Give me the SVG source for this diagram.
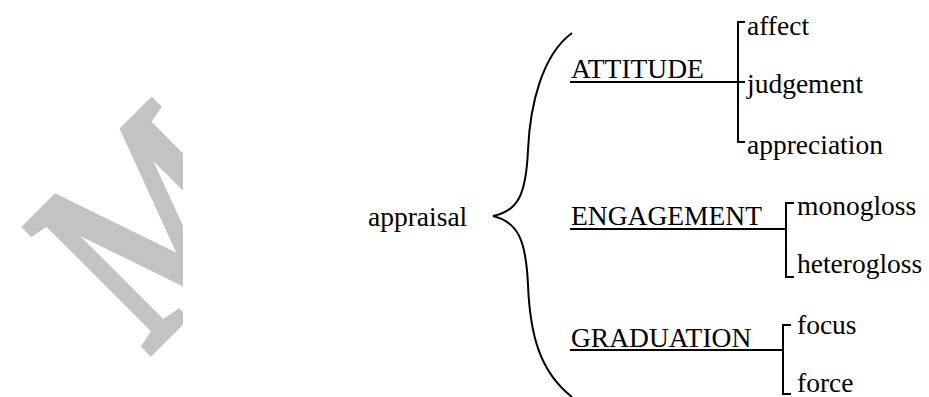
<svg xmlns="http://www.w3.org/2000/svg" width="929" height="397" viewBox="0 0 929 397">
<style>
text{font-family:"Liberation Serif","Times New Roman",serif;fill:#000}
.t{font-size:27.5px}
.ln{stroke:#000;stroke-width:2;fill:none}
</style>
<defs>
<clipPath id="wm"><rect x="0" y="0" width="183" height="397"/></clipPath>
</defs>
<rect width="929" height="397" fill="#fff"/>
<g id="watermark" clip-path="url(#wm)">
<text x="0" y="0" transform="translate(146,356) rotate(-45) scale(0.8,1)" style="font-size:268px;fill:#c3c3c3;stroke:#c3c3c3;stroke-width:8;stroke-linejoin:miter">M</text>
</g>
<g id="connectors">
<path class="ln" d="M572,33 C542,55 530,105 528,150 C526,195 518,211 493,216 C518,222 526,240 528,285 C530,335 540,372 572,397"/>
<path class="ln" d="M570,82 H745 M745,22 H738 V142 H745"/>
<path class="ln" d="M570,229 H786 M794,203 H786 V277 H794"/>
<path class="ln" d="M570,350 H783 M791,325 H783 V394 H791"/>
</g>
<g id="appraisal"><text class="t" x="368" y="226">appraisal</text></g>
<g id="attitude"><text class="t" x="571" y="78">ATTITUDE</text></g>
<g id="engagement"><text class="t" x="571" y="225">ENGAGEMENT</text></g>
<g id="graduation"><text class="t" x="571" y="347">GRADUATION</text></g>
<g id="affect"><text class="t" x="747" y="35">affect</text></g>
<g id="judgement"><text class="t" x="747" y="93">judgement</text></g>
<g id="appreciation"><text class="t" x="747" y="154">appreciation</text></g>
<g id="monogloss"><text class="t" x="797" y="215">monogloss</text></g>
<g id="heterogloss"><text class="t" x="797" y="273">heterogloss</text></g>
<g id="focus"><text class="t" x="797" y="334">focus</text></g>
<g id="force"><text class="t" x="797" y="392">force</text></g>
</svg>
